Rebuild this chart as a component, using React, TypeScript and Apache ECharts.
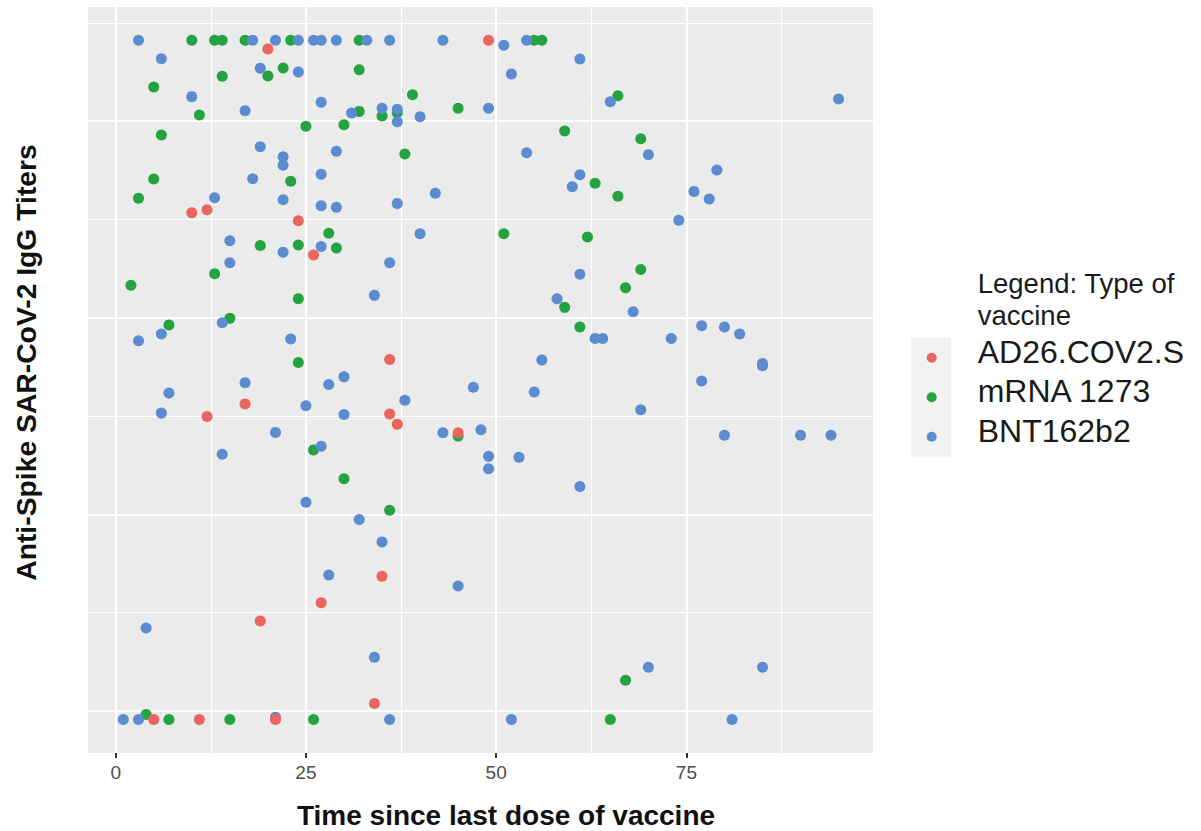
import React, { useEffect, useRef } from "react";
import * as echarts from "echarts";

const FONT = "'Liberation Sans', Arial, Helvetica, sans-serif";

const seriesNames = ["AD26.COV2.S", "mRNA 1273", "BNT162b2"];
const seriesColors = ["#E8665E", "#24A340", "#5C8CD0"];

// [days since last dose, titer level]
const ad26Points: number[][] = [
  [20, 4.367], [49, 4.412], [10, 3.534], [12, 3.55], [24, 3.494], [26, 3.319],
  [36, 2.788], [17, 2.562], [12, 2.498], [36, 2.511], [37, 2.459], [45, 2.415],
  [35, 1.685], [27, 1.55], [19, 1.458], [34, 1.038], [5, 0.956], [11, 0.956], [21, 0.956],
];

const mrnaPoints: number[][] = [
  [10, 4.412], [13, 4.412], [14, 4.412], [17, 4.412], [23, 4.412], [32, 4.412], [55, 4.412], [56, 4.412],
  [20, 4.23], [22, 4.271], [14, 4.229], [32, 4.262], [5, 4.174], [11, 4.032], [32, 4.05], [25, 3.974],
  [30, 3.982], [6, 3.93], [5, 3.706], [23, 3.694], [3, 3.608], [28, 3.43], [19, 3.368], [24, 3.37], [29, 3.355],
  [39, 4.135], [66, 4.13], [35, 4.026], [37, 4.043], [45, 4.066], [59, 3.95], [38, 3.833], [63, 3.684],
  [66, 3.618], [51, 3.427], [62, 3.411], [69, 3.911],
  [13, 3.224], [2, 3.165], [24, 3.097], [7, 2.963], [15, 2.997], [24, 2.773], [26, 2.328], [30, 2.181],
  [59, 3.053], [61, 2.953], [45, 2.398], [36, 2.021], [69, 3.246], [67, 3.153], [67, 1.156],
  [4, 0.982], [7, 0.956], [15, 0.956], [26, 0.956], [65, 0.956],
];

const bntPoints: number[][] = [
  [3, 4.412], [18, 4.412], [21, 4.412], [24, 4.412], [26, 4.412], [27, 4.412], [29, 4.412], [33, 4.412],
  [36, 4.412], [43, 4.412], [54, 4.412], [51, 4.386],
  [6, 4.318], [19, 4.269], [24, 4.25], [10, 4.125], [27, 4.096], [17, 4.053], [31, 4.042], [35, 4.066],
  [37, 4.061], [37, 3.997], [40, 4.023], [49, 4.066], [61, 4.317], [52, 4.24], [65, 4.099], [95, 4.113],
  [19, 3.87], [22, 3.819], [22, 3.776], [29, 3.847], [54, 3.84], [70, 3.83], [18, 3.707], [27, 3.73],
  [61, 3.728], [60, 3.667], [79, 3.752], [76, 3.643], [78, 3.604], [42, 3.633], [13, 3.611], [22, 3.601],
  [37, 3.582], [27, 3.57], [29, 3.562], [74, 3.496],
  [15, 3.392], [27, 3.363], [22, 3.333], [40, 3.427], [15, 3.28], [36, 3.28], [34, 3.114], [61, 3.222],
  [58, 3.097], [68, 3.031],
  [14, 2.975], [6, 2.917], [3, 2.883], [23, 2.892], [63, 2.895], [64, 2.895], [77, 2.959], [80, 2.953],
  [82, 2.917], [73, 2.895], [85, 2.768], [85, 2.756], [56, 2.785],
  [17, 2.669], [30, 2.7], [28, 2.661], [7, 2.617], [25, 2.552], [6, 2.515], [30, 2.508], [38, 2.58],
  [47, 2.647], [55, 2.623], [77, 2.678], [69, 2.532],
  [21, 2.417], [27, 2.346], [14, 2.306], [25, 2.062], [43, 2.415], [48, 2.43], [49, 2.295], [49, 2.232],
  [53, 2.29], [61, 2.142], [80, 2.403], [90, 2.403], [94, 2.403],
  [32, 1.974], [28, 1.691], [4, 1.422], [35, 1.86], [45, 1.635], [34, 1.273], [70, 1.222], [85, 1.222],
  [1, 0.956], [3, 0.956], [36, 0.956], [52, 0.956], [81, 0.956], [21, 0.968],
];

const xTickLabels = [0, 25, 50, 75];
const xMinorBreaks = [12.5, 37.5, 62.5, 87.5];
const yMajorBreaks = [1, 2, 3, 4];
const yMinorBreaks = [1.5, 2.5, 3.5, 4.5];
const xRange = [-3.64, 99.52];
const yRange = [0.786, 4.581];

const xTitle = "Time since last dose of vaccine";
const yTitle = "Anti-Spike SAR-CoV-2 IgG Titers";
const legendTitle = "Legend: Type of\nvaccine";

// legend key: a dot sitting slightly below the label's centre line (as in the reference)
const LEGEND_ICON = "path://M5,0L5,0M0,17A5,5,0,1,0,10,17A5,5,0,1,0,0,17Z";

export default function App() {
  const ref = useRef<HTMLDivElement>(null);

  useEffect(() => {
    document.body.style.margin = "0";
    const chart = echarts.init(ref.current as HTMLDivElement, null, { renderer: "svg" });

    const major = { color: "#FFFFFF", width: 2, type: "solid" };
    const minor = { color: "#FFFFFF", width: 1, type: "solid" };
    const gridLineData = [
      ...xMinorBreaks.map((v) => ({ xAxis: v, lineStyle: minor })),
      ...yMinorBreaks.map((v) => ({ yAxis: v, lineStyle: minor })),
      ...xTickLabels.map((v) => ({ xAxis: v, lineStyle: major })),
      ...yMajorBreaks.map((v) => ({ yAxis: v, lineStyle: major })),
    ];

    const pointSets = [ad26Points, mrnaPoints, bntPoints];
    const drawOrder = [1, 2, 0];

    const series: any[] = drawOrder.map((idx, k) => {
      const s: any = {
        type: "scatter",
        name: seriesNames[idx],
        data: pointSets[idx],
        symbol: "circle",
        symbolSize: 11,
        itemStyle: { color: seriesColors[idx], opacity: 1 },
        emphasis: { disabled: true },
        z: 3,
      };
      if (k === 0) {
        s.markLine = {
          silent: true,
          z: 1,
          symbol: ["none", "none"],
          label: { show: false },
          emphasis: { disabled: true },
          lineStyle: { color: "#FFFFFF", type: "solid", opacity: 1 },
          data: gridLineData,
        };
      }
      return s;
    });

    chart.setOption({
      animation: false,
      backgroundColor: "#FFFFFF",
      textStyle: { fontFamily: FONT },
      grid: {
        show: true,
        left: 88,
        top: 7,
        right: 328,
        bottom: 78,
        backgroundColor: "#EBEBEB",
        borderWidth: 0,
        containLabel: false,
      },
      xAxis: {
        type: "value",
        min: xRange[0],
        max: xRange[1],
        axisLine: { show: false },
        splitLine: { show: false },
        axisTick: {
          show: true,
          customValues: xTickLabels,
          length: 5,
          lineStyle: { color: "#333333", width: 2 },
        },
        axisLabel: {
          show: true,
          customValues: xTickLabels,
          margin: 10,
          fontSize: 19,
          color: "#4D4D4D",
          fontFamily: FONT,
        },
      },
      yAxis: {
        type: "value",
        min: yRange[0],
        max: yRange[1],
        axisLine: { show: false },
        splitLine: { show: false },
        axisTick: {
          show: true,
          customValues: yMajorBreaks,
          length: 5,
          lineStyle: { color: "#333333", width: 2 },
        },
        axisLabel: { show: false },
      },
      legend: {
        data: seriesNames,
        orient: "vertical",
        left: 926.7,
        top: 335.7,
        padding: 0,
        icon: LEGEND_ICON,
        itemWidth: 10,
        itemHeight: 22,
        itemGap: 7.5,
        selectedMode: false,
        textStyle: {
          fontSize: 32,
          lineHeight: 32,
          color: "#1A1A1A",
          fontFamily: FONT,
          padding: [0, 0, 0, 36],
        },
        z: 5,
      },
      graphic: [
        {
          type: "rect",
          z: 1,
          shape: { x: 911, y: 337.7, width: 40, height: 119.6 },
          style: { fill: "#F2F2F2" },
        },
        {
          type: "text",
          x: 977.7,
          y: 267,
          style: {
            text: legendTitle,
            font: `27.5px ${FONT}`,
            lineHeight: 32,
            fill: "#1A1A1A",
            align: "left",
            verticalAlign: "top",
          },
        },
        {
          type: "text",
          x: 506,
          y: 815,
          style: {
            text: xTitle,
            font: `bold 28px ${FONT}`,
            fill: "#111111",
            align: "center",
            verticalAlign: "middle",
          },
        },
        {
          type: "text",
          x: 25.5,
          y: 362.5,
          rotation: Math.PI / 2,
          style: {
            text: yTitle,
            font: `bold 28.3px ${FONT}`,
            fill: "#111111",
            align: "center",
            verticalAlign: "middle",
          },
        },
      ],
      series,
    });

    return () => {
      chart.dispose();
    };
  }, []);

  return <div ref={ref} style={{ width: 1201, height: 831, overflow: "hidden" }} />;
}
